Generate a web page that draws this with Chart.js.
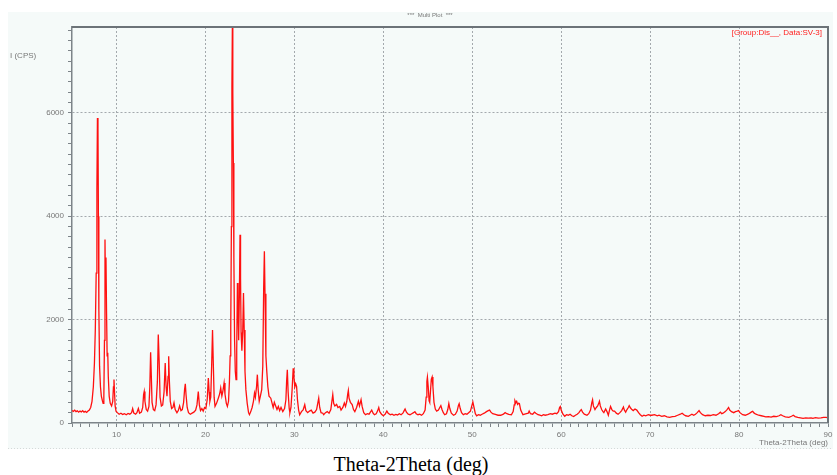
<!DOCTYPE html>
<html>
<head>
<meta charset="utf-8">
<script src="https://cdn.jsdelivr.net/npm/chart.js@4/dist/chart.umd.min.js"></script>
<style>
body{margin:0;background:#fff;}
#wrap{position:relative;width:837px;height:475px;overflow:hidden;}
#c{position:absolute;left:0;top:0;}
#caption{position:absolute;left:0;width:822px;top:454px;text-align:center;font:20px/20px "Liberation Serif","Times New Roman",serif;color:#000;}
</style>
</head>
<body>
<div id="wrap">
<canvas id="c" width="837" height="452"></canvas>
<div id="caption">Theta-2Theta (deg)</div>
</div>
<script>
// XRD pattern, [2theta (deg), intensity (CPS)]
const lowAngle = [[5.0,240],[5.15,225],[5.3,250],[5.45,220],[5.6,235],[5.75,210],[5.9,230],[6.05,215],[6.2,240],[6.35,210],[6.5,225],[6.65,205],[6.8,230],[6.95,250],[7.1,300],[7.25,420],[7.4,700],[7.52,1150],[7.62,1800],[7.72,2900],[7.8,4500],[7.86,5900],[7.92,5700],[7.97,4000],[8.02,2200],[8.1,1100],[8.2,700],[8.3,520],[8.42,430],[8.5,380],[8.58,500],[8.65,1600],[8.71,3550],[8.76,2600],[8.82,3200],[8.88,2200],[8.95,1300],[9.02,1360],[9.08,900],[9.18,520],[9.3,380],[9.45,330],[9.58,420],[9.66,700],[9.72,840],[9.78,600],[9.85,330],[9.95,230],[10.1,200]];

const band10to20 = [[10.3,170],[10.5,190],[10.7,165],[10.9,180],[11.1,160],[11.3,185],[11.5,170],[11.7,200],[11.82,280],[11.95,190],[12.15,170],[12.3,200],[12.46,280],[12.6,190],[12.8,210],[12.95,300],[13.05,550],[13.12,610],[13.2,420],[13.35,260],[13.5,230],[13.65,320],[13.75,700],[13.84,1370],[13.92,900],[14.0,400],[14.15,260],[14.3,240],[14.45,350],[14.6,800],[14.7,1710],[14.8,1200],[14.9,500],[15.05,330],[15.2,350],[15.35,600],[15.48,1160],[15.58,700],[15.68,520],[15.8,900],[15.87,1290],[15.95,800],[16.05,420],[16.2,280],[16.35,300],[16.47,390],[16.6,260],[16.8,200],[16.95,240],[17.1,330],[17.25,240],[17.4,260],[17.55,400],[17.66,650],[17.74,760],[17.82,550],[17.95,300],[18.1,200],[18.3,170],[18.5,190],[18.7,210],[18.9,250],[19.05,350],[19.2,610],[19.32,350],[19.45,240],[19.6,280],[19.75,230],[19.9,300],[20.05,280],[20.2,450],[20.33,870],[20.42,600],[20.5,420]];

const band20to30 = [[20.6,500],[20.7,1100],[20.8,1800],[20.88,1200],[20.98,500],[21.08,320],[21.25,380],[21.45,480],[21.6,560],[21.72,680],[21.85,520],[21.95,600],[22.1,775],[22.2,560],[22.35,380],[22.47,320],[22.6,420],[22.7,800],[22.78,1300],[22.85,1870],[22.92,3800],[22.98,6500],[23.03,7660],[23.08,6400],[23.14,5030],[23.2,3200],[23.28,1600],[23.36,1000],[23.44,840],[23.52,1400],[23.6,2710],[23.66,2300],[23.74,1600],[23.82,2500],[23.89,3640],[23.95,2800],[24.01,1750],[24.1,1400],[24.2,1800],[24.28,2515],[24.36,1800],[24.45,1000],[24.55,645],[24.7,380],[24.85,200],[24.95,160],[25.1,220],[25.25,300],[25.4,420],[25.52,580],[25.62,500],[25.75,700],[25.84,935],[25.93,650],[26.05,420],[26.18,520],[26.33,645],[26.45,1100],[26.55,2600],[26.63,3320],[26.7,2500],[26.8,1300],[26.9,1000],[27.02,700],[27.15,520],[27.35,480],[27.5,380],[27.62,300],[27.75,400],[27.9,330],[28.05,260],[28.2,320],[28.35,240],[28.5,300],[28.7,220],[28.9,280],[29.05,450],[29.13,800],[29.21,1030],[29.3,600],[29.42,280],[29.5,200],[29.62,300],[29.75,650],[29.87,1060],[29.95,900],[30.05,700],[30.15,760],[30.25,710],[30.35,450],[30.48,250],[30.6,160]];

const band30to45 = [[30.8,220],[31.0,260],[31.17,355],[31.3,240],[31.5,200],[31.7,230],[31.9,250],[32.1,190],[32.3,210],[32.5,260],[32.65,400],[32.74,480],[32.85,300],[33.0,200],[33.2,190],[33.3,160],[33.5,200],[33.7,220],[33.9,190],[34.1,260],[34.22,420],[34.32,550],[34.42,380],[34.55,330],[34.75,360],[34.9,300],[35.1,320],[35.25,250],[35.45,300],[35.62,385],[35.75,320],[35.9,420],[36.0,560],[36.07,630],[36.15,480],[36.3,400],[36.5,355],[36.65,260],[36.8,220],[37.0,300],[37.2,420],[37.32,330],[37.5,450],[37.62,320],[37.8,200],[38.0,160],[38.2,180],[38.4,170],[38.55,210],[38.7,250],[38.85,190],[39.0,160],[39.2,180],[39.35,230],[39.49,300],[39.6,220],[39.8,170],[40.0,140],[40.2,170],[40.4,230],[40.55,190],[40.8,160],[41.0,170],[41.2,150],[41.4,165],[41.6,155],[41.8,180],[42.0,160],[42.2,190],[42.35,240],[42.45,270],[42.6,210],[42.8,170],[43.0,160],[43.2,180],[43.4,200],[43.55,220],[43.7,180],[43.9,160],[44.1,170],[44.3,150],[44.5,180],[44.7,250],[44.82,500],[44.9,800],[44.96,885],[45.05,700],[45.15,430],[45.22,400],[45.3,600],[45.4,850],[45.49,890],[45.58,700],[45.7,400],[45.85,270]];

const band45to60 = [[46.0,230],[46.2,250],[46.35,300],[46.47,335],[46.6,260],[46.75,200],[46.9,160],[47.1,180],[47.25,260],[47.37,375],[47.48,280],[47.65,190],[47.9,150],[48.1,170],[48.3,230],[48.45,340],[48.53,375],[48.65,280],[48.8,200],[49.0,160],[49.2,180],[49.4,170],[49.6,200],[49.8,230],[49.95,330],[50.07,405],[50.2,300],[50.35,180],[50.5,140],[50.7,160],[50.9,150],[51.1,170],[51.35,190],[51.6,220],[51.8,240],[51.95,250],[52.1,210],[52.3,180],[52.6,165],[52.9,150],[53.2,150],[53.5,170],[53.7,200],[53.9,180],[54.1,165],[54.4,160],[54.6,220],[54.72,350],[54.8,430],[54.9,390],[55.0,420],[55.1,360],[55.2,380],[55.3,375],[55.45,250],[55.7,160],[55.9,170],[56.1,180],[56.3,190],[56.4,230],[56.55,180],[56.8,170],[57.0,210],[57.15,190],[57.4,160],[57.6,150],[57.8,140],[58.0,160],[58.2,150],[58.5,160],[58.8,180],[59.0,170],[59.3,190],[59.5,180],[59.7,220],[59.82,300],[59.9,320],[60.0,250],[60.2,170],[60.4,130]];

const highAngle = [[60.6,160],[60.8,150],[61.0,170],[61.2,140],[61.4,125],[61.6,150],[61.8,170],[62.0,200],[62.15,240],[62.26,260],[62.4,210],[62.6,170],[62.9,150],[63.1,180],[63.3,250],[63.45,400],[63.53,450],[63.62,330],[63.8,260],[63.95,300],[64.1,330],[64.22,380],[64.3,420],[64.4,330],[64.55,260],[64.7,220],[64.8,200],[65.0,270],[65.15,220],[65.3,150],[65.45,260],[65.55,320],[65.7,260],[65.85,230],[66.0,230],[66.2,190],[66.4,170],[66.6,200],[66.8,240],[67.0,310],[67.1,250],[67.25,210],[67.4,260],[67.55,300],[67.65,335],[67.8,290],[67.95,260],[68.1,240],[68.3,270],[68.5,250],[68.7,200],[68.9,160],[69.1,130],[69.3,150],[69.5,140],[69.8,160],[70.0,150],[70.2,150],[70.5,160],[70.8,140],[71.0,150],[71.3,130],[71.6,140],[71.9,120],[72.2,110],[72.5,125],[72.8,130],[73.1,150],[73.4,170],[73.6,190],[73.8,160],[74.0,140],[74.3,130],[74.5,150],[74.7,170],[74.9,150],[75.1,170],[75.3,200],[75.5,240],[75.65,200],[75.9,160],[76.2,140],[76.5,150],[76.8,145],[77.1,160],[77.4,150],[77.7,180],[77.9,210],[78.05,180],[78.2,190],[78.45,220],[78.65,260],[78.82,300],[78.95,250],[79.15,220],[79.4,200],[79.6,220],[79.8,230],[79.94,240],[80.1,200],[80.4,160],[80.7,150],[81.0,170],[81.2,190],[81.4,215],[81.53,225],[81.7,190],[81.9,170],[82.2,150],[82.5,140],[82.8,130],[83.0,120],[83.3,125],[83.6,115],[83.9,130],[84.2,125],[84.5,140],[84.7,160],[84.9,140],[85.2,120],[85.6,110],[85.9,130],[86.1,150],[86.3,125],[86.6,110],[86.9,100],[87.2,90],[87.5,100],[87.8,95],[88.1,100],[88.3,90],[88.6,105],[88.9,95],[89.2,100],[89.5,110],[89.8,110],[90.0,100]];

const pattern = [].concat(lowAngle, band10to20, band20to30, band30to45, band45to60, highAngle)
  .map(p => ({x: p[0], y: p[1]}));

const axisGrey = '#7d8489';
const gridGrey = '#a3a9ad';
const tickFont = {family: '"Liberation Sans", Arial, sans-serif', size: 8};

const decor = {
  id: 'decor',
  beforeDraw(chart) {
    const ctx = chart.ctx;
    ctx.save();
    ctx.fillStyle = '#f5faf9';
    ctx.fillRect(8, 12, 825, 437);
    ctx.strokeStyle = '#d5d9d9';
    ctx.setLineDash([1, 2]);
    ctx.beginPath();
    ctx.moveTo(8, 448.5);
    ctx.lineTo(833, 448.5);
    ctx.stroke();
    ctx.restore();
  },
  afterDraw(chart) {
    const ctx = chart.ctx, a = chart.chartArea;
    ctx.save();
    // frame top and right
    ctx.strokeStyle = '#6c7378';
    ctx.lineWidth = 2;
    ctx.beginPath();
    ctx.moveTo(a.left, a.top);
    ctx.lineTo(a.right, a.top);
    ctx.lineTo(a.right, a.bottom);
    ctx.stroke();
    ctx.font = '6px "Liberation Sans", Arial, sans-serif';
    ctx.fillStyle = '#777';
    ctx.textAlign = 'center';
    ctx.textBaseline = 'middle';
    ctx.fillText('***  Multi Plot  ***', 430, 15);
    ctx.font = '8px "Liberation Sans", Arial, sans-serif';
    ctx.textAlign = 'left';
    ctx.fillText('I (CPS)', 10, 56);
    ctx.textAlign = 'right';
    ctx.fillText('Theta-2Theta (deg)', 828, 443);
    ctx.fillStyle = '#ff2020';
    ctx.fillText('[Group:Dis__, Data:SV-3]', 822, 33);
    ctx.restore();
  }
};

new Chart(document.getElementById('c'), {
  type: 'line',
  data: {
    datasets: [{
      data: pattern,
      borderColor: '#ff1010',
      borderWidth: 1.3,
      pointRadius: 0,
      tension: 0,
      fill: false
    }]
  },
  options: {
    responsive: false,
    animation: false,
    layout: {padding: {left: 0, right: 9, top: 27, bottom: 0}},
    plugins: {legend: {display: false}, tooltip: {enabled: false}},
    scales: {
      x: {
        type: 'linear',
        min: 5,
        max: 90,
        afterFit: s => { s.height = 29; },
        border: {display: true, color: axisGrey, width: 1.5, dash: [2, 2]},
        grid: {
          color: c => (c.tick && c.tick.value % 10 === 0 && c.tick.value > 5 && c.tick.value < 90) ? gridGrey : 'rgba(0,0,0,0)',
          tickColor: axisGrey,
          tickLength: 4,
          drawOnChartArea: true
        },
        ticks: {
          stepSize: 1,
          autoSkip: false,
          maxTicksLimit: 200,
          maxRotation: 0,
          padding: 3,
          color: '#777',
          font: tickFont,
          callback: v => (v % 10 === 0 ? String(v) : '')
        }
      },
      y: {
        min: 0,
        max: 7660,
        afterFit: s => { s.width = 72; },
        border: {display: true, color: axisGrey, width: 1.5, dash: [2, 2]},
        grid: {
          color: c => (c.tick && c.tick.value % 2000 === 0 && c.tick.value > 0) ? gridGrey : 'rgba(0,0,0,0)',
          tickColor: axisGrey,
          tickLength: 4
        },
        ticks: {
          stepSize: 200,
          includeBounds: false,
          autoSkip: false,
          maxTicksLimit: 200,
          padding: 4,
          color: '#777',
          font: tickFont,
          callback: v => (v % 2000 === 0 ? String(v) : '')
        }
      }
    }
  },
  plugins: [decor]
});
</script>
</body>
</html>
